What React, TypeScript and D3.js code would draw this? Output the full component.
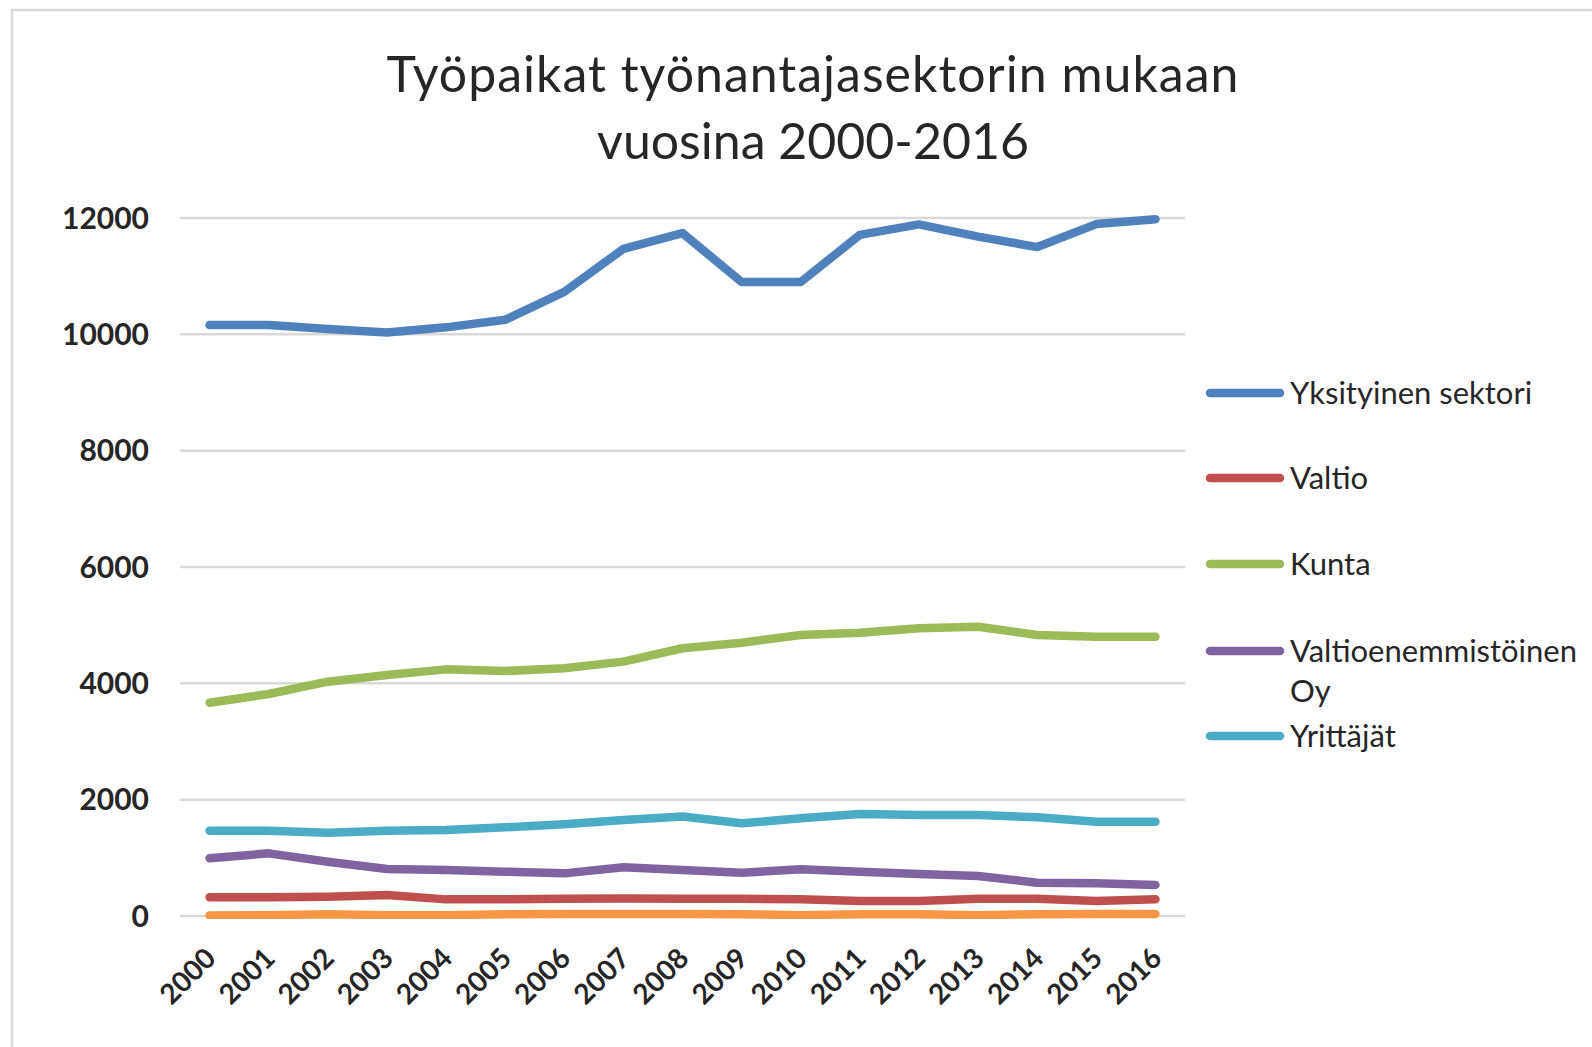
import React from "react";
import * as d3 from "d3";

const years = ["2000","2001","2002","2003","2004","2005","2006","2007","2008","2009","2010","2011","2012","2013","2014","2015","2016"];
const yksityinen = [10160,10160,10090,10030,10120,10250,10730,11470,11740,10900,10900,11710,11890,11680,11500,11895,11980];
const valtio = [321,321,332,361,286,287,295,300,298,298,286,258,258,298,298,258,286];
const kunta = [3667,3817,4028,4143,4240,4212,4258,4373,4603,4699,4831,4871,4946,4974,4831,4802,4802];
const valtioOy = [991,1077,934,808,791,762,733,837,791,745,802,762,722,688,573,562,533];
const yrittajat = [1467,1467,1433,1467,1478,1524,1576,1650,1710,1593,1679,1753,1736,1736,1696,1622,1622];
const muut = [10,15,30,15,15,30,35,35,35,30,15,30,30,15,30,35,35];
const yTicks = [0,2000,4000,6000,8000,10000,12000];

const series = [
  { name: "Yksityinen sektori", values: yksityinen, color: "#4F81BD", legend: true },
  { name: "Valtio", values: valtio, color: "#C0504D", legend: true },
  { name: "Kunta", values: kunta, color: "#9BBB59", legend: true },
  { name: "Valtioenemmistöinen|Oy", values: valtioOy, color: "#8064A2", legend: true },
  { name: "Yrittäjät", values: yrittajat, color: "#4BACC6", legend: true },
  { name: "Muut", values: muut, color: "#F79646", legend: false },
];

const FONT = "Lato, 'Open Sans', sans-serif";

export default function App() {
  const x = d3.scaleBand<string>().domain(years).range([180, 1185]);
  const bw = x.bandwidth();
  const y = d3.scaleLinear().domain([0, 12000]).range([916, 218]);
  const line = d3.line<number>()
    .x((_, i) => (x(years[i]) as number) + bw / 2)
    .y((d) => y(d));

  const legendY = [393, 478, 564, 651, 736];
  const legendSeries = series.filter((s) => s.legend);

  return (
    <svg width={1592} height={1047} style={{ position: "absolute", left: 0, top: 0, display: "block", background: "#fff" }}>
      <defs>
        <clipPath id="plotclip">
          <rect x={150} y={180} width={1060} height={739} />
        </clipPath>
      </defs>
      <rect x={12} y={10} width={1600} height={1100} fill="#fff" stroke="#d9d9d9" strokeWidth={2.5} />
      <text x={813} y={92} textAnchor="middle" fontFamily={FONT} fontSize={50} letterSpacing={1} fill="#262626">Työpaikat työnantajasektorin mukaan</text>
      <text x={813} y={159} textAnchor="middle" fontFamily={FONT} fontSize={50} fill="#262626">vuosina 2000-2016</text>
      {yTicks.map((t) => (
        <g key={t}>
          <line x1={180} x2={1185} y1={y(t)} y2={y(t)} stroke="#d9d9d9" strokeWidth={2.5} />
          <text x={149} y={y(t)} dy="0.36em" textAnchor="end" fontFamily={FONT} fontWeight="bold" fontSize={30} fill="#262626">{t}</text>
        </g>
      ))}
      {years.map((yr) => {
        const cx = (x(yr) as number) + bw / 2 + 8;
        const cy = 960;
        return (
          <text key={yr} x={cx} y={cy} textAnchor="end" transform={`rotate(-45 ${cx} ${cy})`} fontFamily={FONT} fontWeight="bold" fontSize={28} fill="#262626">{yr}</text>
        );
      })}
      <g clipPath="url(#plotclip)">
        {series.slice().reverse().map((s) => (
          <path key={s.name} d={line(s.values) as string} fill="none" stroke={s.color} strokeWidth={8.5} strokeLinecap="round" strokeLinejoin="round" />
        ))}
      </g>
      {legendSeries.map((s, i) => {
        const ly = legendY[i];
        const parts = s.name.split("|");
        return (
          <g key={s.name}>
            <line x1={1210} x2={1280} y1={ly} y2={ly} stroke={s.color} strokeWidth={8.5} strokeLinecap="round" />
            {parts.map((p, j) => (
              <text key={p} x={1290} y={ly + j * 40} dy="0.36em" fontFamily={FONT} fontSize={31} fill="#262626">{p}</text>
            ))}
          </g>
        );
      })}
    </svg>
  );
}
